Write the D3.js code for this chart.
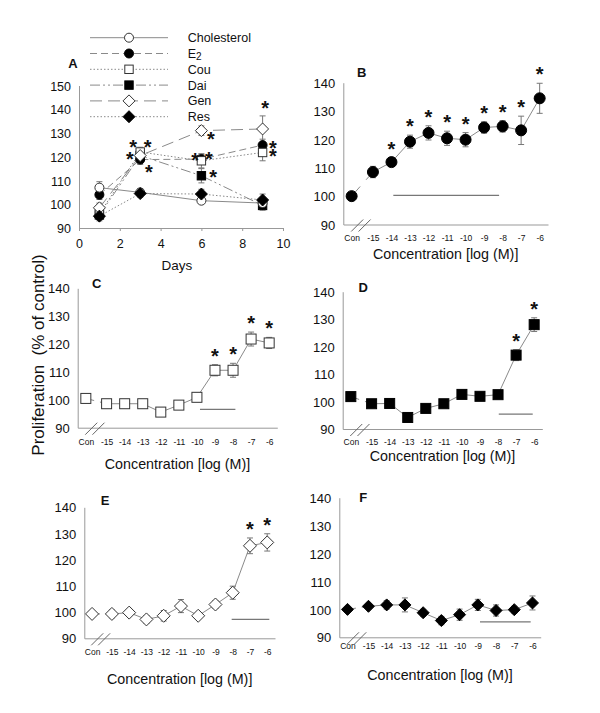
<!DOCTYPE html>
<html><head><meta charset="utf-8">
<script src="https://cdn.jsdelivr.net/npm/d3@7"></script>
<style>
body{margin:0;background:#fff}
svg{display:block}
text{font-family:"Liberation Sans",Arial,sans-serif;fill:#111}
</style>
</head><body>
<svg id="chart" width="600" height="713"></svg>
<script>
// ---------- Panel A data (time course, days) ----------
const days = [1, 3, 6, 9];
const seriesNames = ["Cholesterol", "E2", "Cou", "Dai", "Gen", "Res"];
const cholVals = [107, 105, 101.5, 100.5];
const cholErr  = [2.5, 1.5, 1, 1.2];
const e2Vals   = [104, 118.8, 119, 124.9];
const e2Err    = [2, 2, 2, 2.5];
const couVals  = [96, 122, 118.3, 121.8];
const couErr   = [2, 2, 3, 3.5];
const daiVals  = [95.5, 120.5, 112, 99.5];
const daiErr   = [2, 2, 3, 2];
const genVals  = [98.5, 120.5, 131, 131.7];
const genErr   = [2, 2.5, 2, 5.5];
const resVals  = [95, 104.5, 104.3, 101.8];
const resErr   = [2, 1.5, 2, 2.5];
// significance stars in panel A: [day, value]
const starsA = [[2.65,125.9],[3.37,125.9],[2.5,120.7],[3.43,115.3],[5.69,120.3],[6.37,120.7],[6.47,129.2],[6.57,113.2],[9.12,142.2],[9.51,125.4],[9.51,122.1]];
const dayTicks = [0, 2, 4, 6, 8, 10];
const yTicksA = [90, 100, 110, 120, 130, 140, 150];

// ---------- Panels B-F data (concentration) ----------
const concLabels = ["Con","-15","-14","-13","-12","-11","-10","-9","-8","-7","-6"];
const concPos    = [-16.15,-15,-14,-13,-12,-11,-10,-9,-8,-7,-6];
const yTicksConc = [90, 100, 110, 120, 130, 140];

const bVals = [100, 108.5, 112, 119.2, 122.3, 120.4, 119.9, 124.2, 124.6, 123.2, 134.5];
const bErr  = [0.5, 2, 1.5, 2.3, 2.5, 2.5, 2.5, 2, 2, 5, 5.3];
const bStars = ["-14","-13","-12","-11","-10","-9","-8","-7","-6"];
const bBar = [-13.9, -8.19, 100.3];

const cVals = [100.5, 98.6, 98.6, 98.6, 95.6, 98.1, 100.9, 110.6, 110.6, 121.8, 120.4];
const cErr  = [0.5, 0.8, 0.8, 1.3, 1.5, 0.8, 1.5, 2, 2.5, 2.5, 2];
const cStars = ["-9","-8","-7","-6"];
const cBar = [-9.83, -7.87, 96.6];

const dVals = [101.8, 99.2, 99.3, 94.2, 97.5, 99.2, 102.6, 101.9, 102.5, 116.9, 128];
const dErr  = [0.5, 0.8, 1, 1.5, 1.2, 1, 1, 1, 0.8, 2, 2.5];
const dStars = ["-7","-6"];
const dBar = [-7.96, -6.08, 95.4];

const eVals = [99.3, 99.3, 99.8, 97.2, 98.6, 102.3, 98.6, 102.9, 107.4, 125.3, 126.6];
const eErr  = [0.3, 1.5, 1, 1.5, 2, 2.5, 1, 1.5, 2.5, 3, 3.3];
const eStars = ["-7","-6"];
const eBar = [-8.06, -5.88, 97.25];

const fVals = [100, 101.1, 101.6, 101.6, 98.8, 96, 98.1, 101.6, 99.6, 99.9, 102.3];
const fErr  = [0.5, 0.8, 1.5, 2.5, 1.2, 1.5, 2, 2, 2, 1.2, 2.5];
const fStars = [];
const fBar = [-8.88, -6.1, 95.5];

// ---------- drawing helpers ----------
const svg = d3.select("#chart");
const LINE = "#8a8a8a", AXIS = "#999", MSTROKE = "#333";
const FONT = '"Liberation Sans",Arial,sans-serif';

function markerPath(type, s) {
  if (type === "circle") return d3.path(), null;
}
function drawMarker(g, type, filled, s, cx, cy) {
  const fill = filled ? "#000" : "#fff";
  const stroke = filled ? "#000" : MSTROKE;
  if (type === "circle") {
    g.append("circle").attr("cx", cx).attr("cy", cy).attr("r", s)
      .attr("fill", fill).attr("stroke", stroke).attr("stroke-width", 1);
  } else if (type === "square") {
    g.append("rect").attr("x", cx - s).attr("y", cy - s).attr("width", 2*s).attr("height", 2*s)
      .attr("fill", fill).attr("stroke", stroke).attr("stroke-width", 1);
  } else {
    g.append("path").attr("d", `M${cx},${cy-s}L${cx+s},${cy}L${cx},${cy+s}L${cx-s},${cy}Z`)
      .attr("fill", fill).attr("stroke", stroke).attr("stroke-width", 1);
  }
}
function drawErr(g, cx, y, v, e) {
  const y1 = y(v + e), y2 = y(v - e);
  g.append("line").attr("x1", cx).attr("x2", cx).attr("y1", y1).attr("y2", y2).attr("stroke", "#777").attr("stroke-width", 1);
  [y1, y2].forEach(yy => g.append("line").attr("x1", cx - 3).attr("x2", cx + 3).attr("y1", yy).attr("y2", yy).attr("stroke", "#777").attr("stroke-width", 1));
}
function drawStar(g, cx, cy) {
  g.append("text").attr("x", cx).attr("y", cy + 11).attr("text-anchor", "middle")
    .attr("font-size", 20).attr("font-weight", "bold").text("*");
}
function styleAxis(ax, fs) {
  ax.select(".domain").attr("stroke", AXIS);
  ax.selectAll(".tick line").attr("stroke", AXIS);
  ax.selectAll("text").attr("font-size", fs).attr("font-family", FONT).attr("fill", "#111");
}

// ---------- Panel A ----------
(function () {
  const x = d3.scaleLinear().domain([0, 10]).range([79, 283]);
  const y = d3.scaleLinear().domain([90, 150]).range([228, 85.5]);
  const g = svg.append("g");
  const ay = g.append("g").attr("transform", `translate(79,0)`)
    .call(d3.axisLeft(y).tickValues(yTicksA).tickSize(0).tickPadding(8));
  styleAxis(ay, 12.5);
  ay.selectAll("text").attr("dy", "0.36em");
  const ax = g.append("g").attr("transform", `translate(0,228)`)
    .call(d3.axisBottom(x).tickValues(dayTicks).tickSize(3).tickSizeOuter(0).tickPadding(8));
  styleAxis(ax, 12.5);
  g.append("text").attr("x", 177).attr("y", 270).attr("text-anchor", "middle").attr("font-size", 13.5).text("Days");
  g.append("text").attr("x", 73).attr("y", 68).attr("text-anchor", "middle").attr("font-size", 13).attr("font-weight", "bold").text("A");

  const series = [
    {name: seriesNames[0], vals: cholVals, err: cholErr, type: "circle",  filled: false, s: 4.5, dash: null},
    {name: seriesNames[1], vals: e2Vals,   err: e2Err,   type: "circle",  filled: true,  s: 4.5, dash: "7,4"},
    {name: seriesNames[2], vals: couVals,  err: couErr,  type: "square",  filled: false, s: 4.2, dash: "1.5,2"},
    {name: seriesNames[3], vals: daiVals,  err: daiErr,  type: "square",  filled: true,  s: 4.2, dash: "10,3,2,3,2,3"},
    {name: seriesNames[4], vals: genVals,  err: genErr,  type: "diamond", filled: false, s: 6,   dash: "12,6"},
    {name: seriesNames[5], vals: resVals,  err: resErr,  type: "diamond", filled: true,  s: 6,   dash: "1.5,2"}
  ];
  const line = d3.line().x((d, i) => x(days[i])).y(d => y(d));
  series.forEach(s => {
    g.append("path").attr("d", line(s.vals)).attr("fill", "none").attr("stroke", LINE)
      .attr("stroke-width", 1).attr("stroke-dasharray", s.dash);
  });
  const order = [3, 1, 0, 2, 4, 5];
  order.forEach(k => {
    const s = series[k];
    s.vals.forEach((v, i) => drawErr(g, x(days[i]), y, v, s.err[i]));
  });
  order.forEach(k => {
    const s = series[k];
    s.vals.forEach((v, i) => drawMarker(g, s.type, s.filled, s.s, x(days[i]), y(v)));
  });
  starsA.forEach(st => drawStar(g, x(st[0]), y(st[1])));

  // legend
  series.forEach((s, i) => {
    const ly = 37.7 + i * 15.8;
    g.append("line").attr("x1", 90).attr("x2", 168).attr("y1", ly).attr("y2", ly)
      .attr("stroke", LINE).attr("stroke-width", 1).attr("stroke-dasharray", s.dash);
    drawMarker(g, s.type, s.filled, s.s, 129, ly);
    const t = g.append("text").attr("x", 187.7).attr("y", ly + 4.5).attr("font-size", 12.5);
    if (s.name === "E2") {
      t.append("tspan").text("E");
      t.append("tspan").attr("font-size", 10).attr("dy", 2).text("2");
    } else t.text(s.name);
  });
})();

// ---------- Panels B-F ----------
function concPanel(c) {
  const x = d3.scaleLinear().domain([-16.6, -5.55]).range([c.x0, c.x1]);
  const y = d3.scaleLinear().domain([90, 140]).range([c.yb, c.yt]);
  const g = svg.append("g");
  const ay = g.append("g").attr("transform", `translate(${c.x0},0)`)
    .call(d3.axisLeft(y).tickValues(yTicksConc).tickSize(0).tickPadding(8));
  styleAxis(ay, 13);
  ay.selectAll("text").attr("dy", "0.36em");
  const ax = g.append("g").attr("transform", `translate(0,${c.yb})`)
    .call(d3.axisBottom(x).tickValues(concPos).tickFormat((d, i) => concLabels[i]).tickSize(0).tickSizeOuter(0).tickPadding(c.tickPad));
  styleAxis(ax, 8.5);
  // axis break marks
  [-15.85, -15.45].forEach(p => {
    g.append("line").attr("x1", x(p) - 6).attr("x2", x(p) + 6).attr("y1", c.yb + 7).attr("y2", c.yb - 5)
      .attr("stroke", "#666").attr("stroke-width", 1);
  });
  g.append("text").attr("x", (c.x0 + c.x1) / 2).attr("y", c.titleY).attr("text-anchor", "middle")
    .attr("font-size", 14.3).text("Concentration [log (M)]");
  g.append("text").attr("x", c.lx).attr("y", c.ly + 4.7).attr("text-anchor", "middle")
    .attr("font-size", 13).attr("font-weight", "bold").text(c.letter);
  // horizontal bar
  g.append("line").attr("x1", x(c.bar[0])).attr("x2", x(c.bar[1])).attr("y1", y(c.bar[2])).attr("y2", y(c.bar[2]))
    .attr("stroke", "#777").attr("stroke-width", 1.2);
  // connecting line
  const line = d3.line().x(d => x(d[0])).y(d => y(d[1]));
  const pts = concPos.map((p, i) => [p, c.vals[i]]);
  g.append("path").attr("d", line(pts.slice(1))).attr("fill", "none").attr("stroke", LINE).attr("stroke-width", 1);
  const a = pts[0], b = pts[1];
  const lerp = t => [a[0] + (b[0] - a[0]) * t, a[1] + (b[1] - a[1]) * t];
  g.append("path").attr("d", line([a, lerp(0.4)])).attr("fill", "none").attr("stroke", LINE).attr("stroke-width", 1);
  g.append("path").attr("d", line([lerp(0.68), b])).attr("fill", "none").attr("stroke", LINE).attr("stroke-width", 1);
  pts.forEach((p, i) => drawErr(g, x(p[0]), y, p[1], c.errs[i]));
  pts.forEach(p => drawMarker(g, c.marker, c.filled, c.s, x(p[0]), y(p[1])));
  c.stars.forEach(lbl => {
    const i = concLabels.indexOf(lbl);
    drawStar(g, x(concPos[i]), y(c.vals[i] + c.errs[i]) - 13);
  });
}

concPanel({vals: bVals, errs: bErr, stars: bStars, bar: bBar, marker: "circle", filled: true, s: 5.5,
  x0: 343.3, x1: 548, yb: 224.5, yt: 82.7, tickPad: 10, titleY: 259, letter: "B", lx: 361.7, ly: 72.7});
concPanel({vals: cVals, errs: cErr, stars: cStars, bar: cBar, marker: "square", filled: false, s: 5,
  x0: 77.7, x1: 277.3, yb: 427.7, yt: 288.3, tickPad: 11, titleY: 468.5, letter: "C", lx: 96.7, ly: 283.3});
concPanel({vals: dVals, errs: dErr, stars: dStars, bar: dBar, marker: "square", filled: true, s: 5,
  x0: 342.7, x1: 542.3, yb: 429, yt: 291.7, tickPad: 10, titleY: 461, letter: "D", lx: 363.3, ly: 287.3});
concPanel({vals: eVals, errs: eErr, stars: eStars, bar: eBar, marker: "diamond", filled: false, s: 6.5,
  x0: 84.3, x1: 275, yb: 638.3, yt: 507.3, tickPad: 11, titleY: 683.5, letter: "E", lx: 105, ly: 500.7});
concPanel({vals: fVals, errs: fErr, stars: fStars, bar: fBar, marker: "diamond", filled: true, s: 6,
  x0: 339.3, x1: 540.7, yb: 637.3, yt: 497.7, tickPad: 6, titleY: 680, letter: "F", lx: 363.3, ly: 497.3});

// shared y title
svg.append("text").attr("transform", "translate(44,355) rotate(-90)").attr("text-anchor", "middle")
  .attr("font-size", 17).attr("xml:space", "preserve").style("white-space", "pre").text("Proliferation  (% of control)");
</script>
</body></html>
